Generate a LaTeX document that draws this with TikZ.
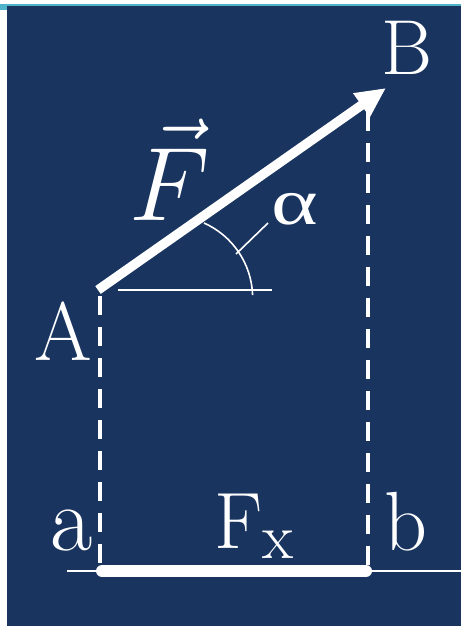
\documentclass[tikz,border=0pt]{standalone}
\usepackage{fontspec}
\newfontfamily\tms{Liberation Serif}
\usetikzlibrary{arrows.meta}
\definecolor{navy}{HTML}{18345F}
\definecolor{cyanbar}{HTML}{4FB3CC}
\begin{document}
\begin{tikzpicture}[x=1pt,y=-1pt,
  lbl/.style={text=white,inner sep=0pt,outer sep=0pt},
  proj/.style={white,line width=4.5pt,dash pattern=on 19pt off 12pt},
  thin/.style={white,line width=2pt}]
\useasboundingbox (0,0) rectangle (461,626);
\fill[white] (0,0) rectangle (461,626);
\fill[navy] (7,6) rectangle (461,626);
\fill[cyanbar] (0,4) rectangle (461,6);
\fill[cyanbar] (0,4) rectangle (7,10);
% points
\coordinate (A) at (98,290);
\coordinate (B) at (386,88);
\coordinate (Atop) at (100,296);
\coordinate (Btop) at (368,112);
\coordinate (a) at (100,571);
\coordinate (b) at (368,571);
\coordinate (Lend) at (67,571);
\coordinate (Rend) at (461,571);
\coordinate (H1) at (118,290);
\coordinate (H2) at (272,290);
\coordinate (P1) at (204,223);
\coordinate (T1) at (236,254);
\coordinate (T2) at (268,223);
% projections
\draw[proj] (Atop) -- (a);
\draw[proj] (Btop) -- (b);
% axis
\draw[thin] (Lend) -- (Rend);
\draw[white,line width=12pt,line cap=round] ([xshift=2pt]a) -- ([xshift=-2pt]b);
% horizontal reference and angle
\draw[thin] (H1) -- (H2);
\draw[white,line width=1.6pt] (P1) arc[start angle=-66,end angle=-2,radius=82];
\draw[white,line width=1.6pt] (T1) -- (T2);
% force vector
\draw[white,line width=9.5pt,-{Triangle[length=30pt,width=27pt]}] (A) -- (B);
% labels
\node[lbl,font=\fontsize{78}{78}\selectfont] (lB) at (407,48) {B};
\node[lbl,font=\fontsize{83}{83}\selectfont] (lA) at (63,331) {A};
\node[lbl,anchor=base] (lF) at (170,220) {\scalebox{4.2}{\fontsize{24.88}{24.88}\selectfont$\vec{F}$}};
\node[lbl,font=\tms\fontsize{66}{66}\selectfont] (lal) at (295,209) {\scalebox{1.35}[1]{α}};
\node[lbl,anchor=base,font=\fontsize{92}{92}\selectfont] (la) at (72,550) {a};
\node[lbl,anchor=base,font=\fontsize{84}{84}\selectfont] (lb) at (406,550) {b};
\node[lbl,anchor=base west,font=\fontsize{80}{80}\selectfont] (lFx) at (214,548) {F\raisebox{-10pt}{\fontsize{64}{64}\selectfont x}};
\end{tikzpicture}
\end{document}
